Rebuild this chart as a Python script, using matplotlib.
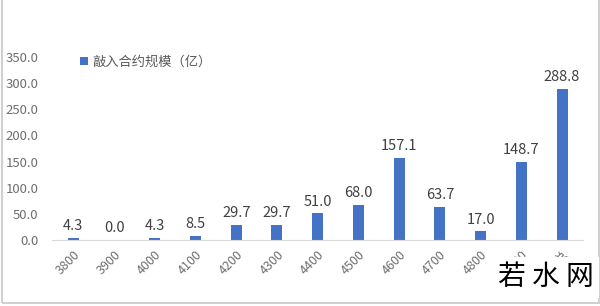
import matplotlib
matplotlib.use("Agg")
import matplotlib.pyplot as plt
from matplotlib.patches import Rectangle

plt.rcParams['font.family'] = ['Noto Sans CJK SC', 'DejaVu Sans']

categories = ['3800', '3900', '4000', '4100', '4200', '4300', '4400', '4500',
              '4600', '4700', '4800', '4900', '汇总']
values = [4.3, 0.0, 4.3, 8.5, 29.7, 29.7, 51.0, 68.0, 157.1, 63.7, 17.0, 148.7, 288.8]
series_name = '敲入合约规模（亿）'
yticks = [0, 50, 100, 150, 200, 250, 300, 350]

fig = plt.figure(figsize=(6.0, 3.06), dpi=100)
ax = fig.add_axes([0.087, 0.215, 0.885, 0.60])
x = list(range(len(categories)))
bars = ax.bar(x, values, width=0.27, color='#4472C4', label=series_name)
for xi, v in zip(x, values):
    ax.text(xi, v + 9, f'{v:.1f}', ha='center', va='bottom', fontsize=10.5, color='#404040')

ax.set_xlim(-0.52, len(categories) - 0.48)
ax.set_ylim(0, 350)
ax.set_yticks(yticks)
ax.set_yticklabels([f'{t:.1f}' for t in yticks], fontsize=9.5, color='#6E6E6E')
ax.set_xticks(x)
ax.set_xticklabels(categories, rotation=45, ha='right', rotation_mode='anchor',
                   fontsize=9, color='#6E6E6E')
for s in ['top', 'right', 'left']:
    ax.spines[s].set_visible(False)
ax.spines['bottom'].set_color('#D9D9D9')
ax.tick_params(axis='both', length=0)
ax.tick_params(axis='y', pad=10)
ax.tick_params(axis='x', pad=6)

leg = ax.legend(loc='upper left', bbox_to_anchor=(0.03, 1.07), frameon=False,
                fontsize=9.5, handlelength=0.6, handleheight=0.6, handletextpad=0.3,
                labelcolor='#595959')

# outer frame
fig.patches.append(Rectangle((0.004, 0.01), 0.994, 1.2, transform=fig.transFigure,
                             fill=False, edgecolor='#D0D0D0', linewidth=1.5))

# watermark
fig.text(0.91, 0.045, '若 水 网', ha='center', va='bottom', fontsize=20, color='black',
         bbox=dict(facecolor='white', edgecolor='none', pad=4))

fig.savefig('out.png', dpi=100)
